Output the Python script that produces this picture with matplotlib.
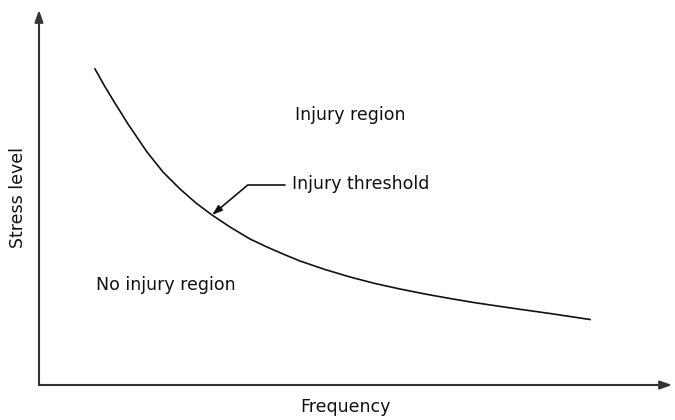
import matplotlib
matplotlib.use('Agg')
import matplotlib.pyplot as plt

# threshold curve (arbitrary units)
freq = [56, 65, 74, 89, 108, 124, 141, 157, 173, 191, 211, 228, 244, 261, 286, 311, 336, 361, 386, 411, 436, 461, 486, 511, 531, 551]
stress = [316, 300, 285, 261, 233, 213, 196, 182, 170, 158, 146, 138, 131, 124, 115.5, 108, 101.5, 96, 91, 86.5, 82.3, 78.6, 75, 71.5, 68.5, 65.5]

x_label = 'Frequency'
y_label = 'Stress level'
upper_text = 'Injury region'
lower_text = 'No injury region'
curve_text = 'Injury threshold'

plt.rcParams['font.family'] = ['DejaVu Sans']
fig = plt.figure(figsize=(6.75, 4.2), dpi=100)
ax = fig.add_axes([39 / 675, 35 / 420, 633 / 675, 375 / 420])
ax.set_xlim(0, 633)
ax.set_ylim(0, 375)
ax.axis('off')

axis_col = '#333333'
# axes with arrow heads
ax.annotate('', xy=(633, 0), xytext=(0, 0),
            arrowprops=dict(arrowstyle='-|>,head_length=0.7,head_width=0.25', color=axis_col, lw=1.5, shrinkA=0, shrinkB=0))
ax.annotate('', xy=(0, 375), xytext=(0, 0),
            arrowprops=dict(arrowstyle='-|>,head_length=0.7,head_width=0.25', color=axis_col, lw=1.5, shrinkA=0, shrinkB=0))

ax.plot(freq, stress, color='#111111', lw=1.2)

fs = 12.5
ax.text(256, 270, upper_text, fontsize=fs, va='center', ha='left', color='#111111')
ax.text(57, 100, lower_text, fontsize=fs, va='center', ha='left', color='#111111')

tip = (freq[8], stress[8])
ax.annotate('', xy=tip, xytext=(246, 200),
            arrowprops=dict(arrowstyle='-|>,head_length=0.6,head_width=0.2', color='#111111', lw=1.2,
                            shrinkA=0, shrinkB=0, connectionstyle='angle,angleA=180,angleB=40,rad=0'))
ax.text(253, 201, curve_text, fontsize=fs, va='center', ha='left', color='#111111')

fig.text(18 / 675, 1 - 197 / 420, y_label, rotation=90, fontsize=fs, ha='center', va='center', color='#111111')
fig.text(345 / 675, 1 - 407 / 420, x_label, fontsize=fs, ha='center', va='center', color='#111111')

fig.savefig('out.png', dpi=100)
